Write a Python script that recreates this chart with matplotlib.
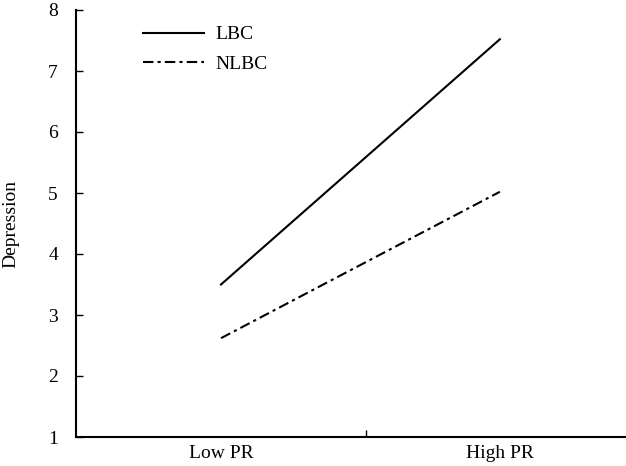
import matplotlib.pyplot as plt

categories = ["Low PR", "High PR"]
lbc = [3.5, 7.52]
nlbc = [2.62, 5.02]

plt.rcParams['font.family'] = ['Liberation Serif', 'DejaVu Serif']

fig = plt.figure(figsize=(6.26, 4.66), dpi=100)
# axes runs past the right edge like the cropped original
ax = fig.add_axes([76 / 626, 29 / 466, 580 / 626, 427 / 466])

x = [0, 1]
ax.plot(x, lbc, color='black', linewidth=1.5, linestyle='-', label='LBC')
ax.plot(x, nlbc, color='black', linewidth=1.5, linestyle=(0, (5, 2, 1.5, 2)), label='NLBC')

ax.set_xlim(-0.52, 1.56)
ax.set_ylim(1, 8)
ax.set_yticks(range(1, 9))

# category boundary tick, labels sit at the category centres
ax.set_xticks([0.52])
ax.set_xticklabels([])
ax.set_xticks(x, minor=True)
ax.set_xticklabels(categories, minor=True)
ax.tick_params(axis='x', which='minor', length=0, pad=6, labelsize=14)
ax.tick_params(axis='x', which='major', direction='in', length=5, width=1)
ax.tick_params(axis='y', direction='in', length=5, width=1, pad=13, labelsize=14)

for side in ['top', 'right']:
    ax.spines[side].set_visible(False)
for side in ['left', 'bottom']:
    ax.spines[side].set_linewidth(1.5)

ax.set_ylabel("Depression", fontsize=14, labelpad=21)

ax.legend(loc='upper left', bbox_to_anchor=(0.086, 1.004), frameon=False,
          handlelength=3.1, fontsize=14, labelspacing=0.6, handletextpad=0.6)

fig.savefig("out.png", dpi=100)
